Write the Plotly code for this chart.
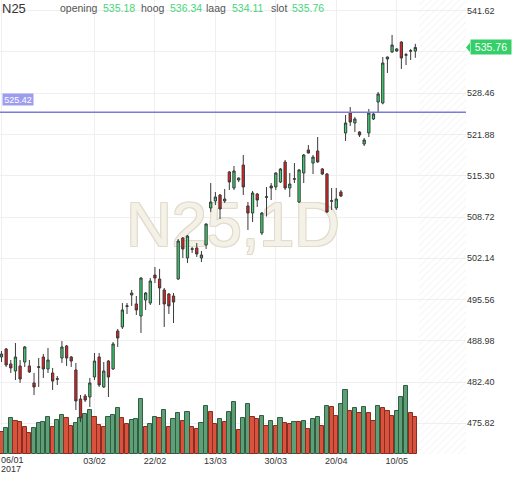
import pandas as pd
import plotly.graph_objects as go

symbol = "N25"
interval = "1D"

# trading days (Euronext holidays skipped)
holidays = ["2017-04-14", "2017-04-17", "2017-05-01"]
days = [d for d in pd.bdate_range("2017-01-06", "2017-05-16")
        if d.strftime("%Y-%m-%d") not in holidays]

open_ = [486.39, 487.67, 485.28, 484.16, 484.96, 485.59, 484.96, 482.25, 484.85, 486.39,
         484.48, 483.84, 482.95, 486.23, 488.15, 486.39, 484.32, 479.69, 480.17, 480.01,
         483.20, 486.39, 481.61, 485.75, 484.48, 490.54, 491.18, 494.45, 496.28, 494.85,
         492.93, 495.48, 495.00, 499.47, 498.83, 497.08, 496.44, 496.12, 498.83, 505.37,
         502.18, 503.67, 503.78, 502.18, 504.25, 510.16, 511.27, 512.23, 511.27, 515.90,
         513.35, 514.62, 517.01, 510.48, 509.36, 512.39, 506.17, 511.85, 513.67, 513.51,
         514.30, 517.49, 513.35, 514.73, 511.11, 515.74, 519.41, 517.33, 519.25, 516.38,
         515.58, 511.22, 510.16, 512.71, 522.12, 525.31, 523.71, 522.28, 520.36, 522.12,
         524.35, 527.06, 526.90, 533.92, 535.04, 535.20, 536.63, 534.51, 535.15, 535.18]

high = [487.35, 487.83, 485.91, 488.62, 485.91, 488.15, 485.91, 483.84, 486.23, 486.87,
        487.83, 484.64, 483.36, 488.94, 488.31, 486.55, 485.44, 480.33, 480.49, 483.04,
        487.03, 487.03, 485.59, 485.90, 488.78, 490.86, 495.00, 495.00, 497.08, 496.12,
        499.10, 496.76, 498.99, 500.75, 500.43, 497.40, 496.60, 496.60, 505.21, 505.53,
        505.85, 503.94, 504.57, 503.30, 507.70, 514.14, 512.71, 512.39, 513.19, 516.06,
        516.85, 515.00, 518.61, 511.11, 512.87, 512.55, 509.52, 513.50, 514.14, 515.85,
        516.54, 517.81, 515.74, 517.33, 516.38, 518.77, 520.20, 518.61, 521.48, 516.54,
        515.74, 513.35, 513.35, 513.03, 524.99, 526.26, 524.67, 522.40, 521.32, 525.95,
        525.31, 528.66, 534.24, 534.30, 537.75, 535.67, 536.75, 534.88, 535.52, 536.34]

low = [485.59, 484.80, 483.84, 482.72, 482.25, 484.80, 483.84, 480.33, 481.61, 483.04,
       483.84, 481.13, 481.93, 485.44, 484.96, 484.80, 477.94, 476.03, 479.21, 478.42,
       482.72, 481.61, 481.45, 480.01, 484.32, 487.99, 490.86, 493.25, 494.53, 493.09,
       490.22, 493.89, 494.69, 498.19, 494.69, 491.18, 493.25, 491.81, 498.70, 502.18,
       501.38, 502.98, 502.34, 501.54, 503.62, 509.52, 510.63, 508.40, 510.95, 513.03,
       513.03, 514.30, 512.23, 506.65, 507.92, 510.32, 505.85, 508.80, 511.43, 513.03,
       514.14, 513.03, 511.91, 514.14, 510.95, 514.14, 518.85, 515.58, 517.40, 515.42,
       509.36, 509.84, 509.84, 511.91, 520.84, 523.23, 522.28, 521.48, 520.04, 521.48,
       524.19, 525.47, 526.70, 531.69, 534.90, 535.04, 532.33, 532.96, 533.76, 534.11]

close = [486.87, 485.12, 484.64, 486.39, 482.88, 487.99, 484.00, 481.61, 484.75, 484.48,
         485.91, 482.56, 482.85, 487.99, 486.23, 485.75, 479.38, 476.66, 479.53, 482.25,
         485.75, 481.93, 484.16, 483.20, 488.47, 489.42, 493.89, 494.55, 496.60, 493.89,
         498.99, 496.60, 498.51, 498.99, 497.40, 494.85, 494.53, 495.16, 504.89, 503.62,
         505.69, 503.57, 502.82, 502.66, 507.60, 511.11, 511.91, 510.00, 511.59, 514.30,
         516.06, 514.94, 513.51, 509.36, 512.55, 511.43, 509.36, 511.95, 513.35, 515.74,
         516.38, 513.35, 513.98, 514.83, 516.22, 518.61, 518.93, 518.29, 517.49, 515.58,
         509.52, 511.32, 511.59, 512.07, 523.71, 523.87, 524.35, 521.80, 521.00, 525.31,
         525.15, 528.34, 533.28, 534.24, 536.15, 535.52, 534.08, 534.61, 535.25, 535.76]

volume = [31.0, 36.7, 51.0, 47.6, 46.2, 38.1, 29.5, 36.7, 43.8, 45.2,
          53.3, 39.0, 48.6, 55.7, 51.0, 40.0, 43.8, 51.0, 56.7, 62.9,
          53.3, 41.4, 39.0, 52.4, 55.7, 65.2, 51.0, 42.9, 48.6, 49.5,
          78.6, 39.0, 42.9, 53.3, 51.0, 62.9, 39.0, 49.5, 58.1, 47.6,
          60.5, 38.1, 35.7, 44.8, 69.0, 59.5, 42.4, 49.5, 46.2, 60.5,
          73.8, 34.3, 51.0, 71.4, 52.4, 50.0, 54.8, 40.0, 47.6, 40.0,
          51.0, 44.8, 42.4, 46.2, 45.2, 47.6, 35.7, 49.5, 53.3, 40.0,
          68.6, 66.7, 54.3, 71.4, 91.4, 61.9, 65.2, 58.1, 67.6, 58.1,
          47.6, 68.6, 65.2, 61.9, 54.3, 61.9, 81.9, 97.6, 58.1, 52.4]

tick_days = ["2017-01-06", "2017-02-03", "2017-02-22", "2017-03-13",
             "2017-03-30", "2017-04-20", "2017-05-10"]
tick_text = ["06/01", "03/02", "22/02", "13/03", "30/03", "20/04", "10/05"]

price_ticks = [475.82, 482.40, 488.98, 495.56, 502.14, 508.72,
               515.30, 521.88, 528.46, 535.04, 541.62]
price_line = 525.42

header_labels = ["opening", "hoog", "laag", "slot"]
header_values = [open_[-1], high[-1], low[-1], close[-1]]

FONT = "Arial, Liberation Sans, sans-serif"
n = len(days)
x = list(range(n))
x_range = [-0.32, 99.9]
price_range = [470.92, 543.33]
vol_range = [0, 650]

day_str = [d.strftime("%Y-%m-%d") for d in days]
tickvals = [day_str.index(d) for d in tick_days]
# first label sits at the left edge, drawn separately (left aligned) below
ticktext = [""] + tick_text[1:]

# the last-price marker sits over the tick label closest to the close
price_text = ["" if abs(v - close[-1]) < 1.5 else f"{v:.2f}" for v in price_ticks]

# volume colour: higher than previous day -> green
vol_fill, vol_edge = [], []
for i, v in enumerate(volume):
    if i > 0 and v > volume[i - 1]:
        vol_fill.append("#5f9f78"); vol_edge.append("#2f5e41")
    else:
        vol_fill.append("#d8523d"); vol_edge.append("#8a2c1f")

fig = go.Figure()

# future area hatching
fig.add_trace(go.Scatter(
    x=[n - 0.2, x_range[1], x_range[1], n - 0.2, n - 0.2],
    y=[vol_range[0], vol_range[0], vol_range[1], vol_range[1], vol_range[0]],
    fill="toself", mode="none", fillcolor="rgba(0,0,0,0)",
    fillpattern=dict(shape="/", fgcolor="#e9e9e9", bgcolor="rgba(0,0,0,0)",
                     size=5, solidity=0.2),
    hoverinfo="skip", showlegend=False))

# watermark
fig.add_trace(go.Scatter(
    x=[(x_range[0] + x_range[1]) / 2], y=[(vol_range[0] + vol_range[1]) / 2 - 4],
    mode="text", text=[symbol + "," + interval],
    textfont=dict(family=FONT, size=63, color="#f4f1e8",
                  shadow="-1px -1px 0 #e2dbca, 1px -1px 0 #e2dbca, -1px 1px 0 #e2dbca, 1px 1px 0 #e2dbca"),
    hoverinfo="skip", showlegend=False))

fig.add_trace(go.Bar(
    x=x, y=volume, width=0.9,
    marker=dict(color=vol_fill, line=dict(color=vol_edge, width=1)),
    showlegend=False))

fig.add_trace(go.Candlestick(
    x=x, open=open_, high=high, low=low, close=close, yaxis="y2",
    whiskerwidth=0,
    increasing=dict(fillcolor="#36dc6e", line=dict(color="#3a3a3a", width=1)),
    decreasing=dict(fillcolor="#ee1b1b", line=dict(color="#3a3a3a", width=1)),
    showlegend=False))

fig.add_shape(type="line", xref="paper", yref="y2", x0=0, x1=1,
              y0=price_line, y1=price_line, line=dict(color="#7b7bda", width=1.5))

# pointer of last price marker
fig.add_shape(type="path", xref="paper", yref="y2",
              path=f"M 1.0 {close[-1]} L 1.0086 {close[-1] + 0.75} L 1.0086 {close[-1] - 0.75} Z",
              fillcolor="#35cf69", line=dict(width=0))

fig.add_annotation(xref="paper", yref="y2", x=1.0086, y=close[-1],
                   xanchor="left", yanchor="middle", text=f"{close[-1]:.2f}",
                   showarrow=False, bgcolor="#35cf69", width=38, height=12, borderpad=1,
                   font=dict(family=FONT, size=10.5, color="white"))

fig.add_annotation(xref="paper", yref="y2", x=0.005, y=price_line, yshift=13,
                   xanchor="left", yanchor="middle", text=f"{price_line:.2f}",
                   showarrow=False, bgcolor="#9d9df0", width=28, height=9, borderpad=1,
                   font=dict(family=FONT, size=9, color="white"))

# first date label + year, left aligned at the plot edge
for txt, py in [(tick_text[0], 459.7), (days[0].strftime("%Y"), 468.5)]:
    fig.add_annotation(xref="paper", yref="paper", x=0, y=1 - py / 454,
                       xanchor="left", yanchor="middle", text=txt, showarrow=False,
                       borderpad=0, font=dict(family=FONT, size=9, color="#333333"))

fig.add_annotation(xref="paper", yref="paper", x=0, y=1 - 8 / 454,
                   xanchor="left", yanchor="middle", text=symbol, showarrow=False,
                   font=dict(family=FONT, size=13, color="#333333"))

label_px = [58, 138.5, 204, 268.5]
value_px = [100.5, 167.5, 229.5, 289.5]
for lab, val, lx, vx in zip(header_labels, header_values, label_px, value_px):
    fig.add_annotation(xref="paper", yref="paper", x=lx / 466, y=1 - 8.5 / 454,
                       xanchor="left", yanchor="middle", text=lab, showarrow=False,
                       font=dict(family=FONT, size=10.5, color="#555555"))
    fig.add_annotation(xref="paper", yref="paper", x=vx / 466, y=1 - 8.5 / 454,
                       xanchor="left", yanchor="middle", text=f"{val:.2f}", showarrow=False,
                       font=dict(family=FONT, size=10.5, color="#46d67c"))

fig.update_layout(
    width=512, height=477,
    margin=dict(l=0, r=46, t=0, b=23, autoexpand=False),
    paper_bgcolor="white", plot_bgcolor="white",
    showlegend=False, bargap=0,
    xaxis=dict(range=x_range, tickvals=tickvals, ticktext=ticktext,
               showgrid=True, gridcolor="#f0f0f0", zeroline=False, showline=False,
               ticks="", automargin=False,
               tickfont=dict(family=FONT, size=9, color="#333333"),
               rangeslider=dict(visible=False), fixedrange=True),
    yaxis=dict(range=vol_range, visible=False, showgrid=False, fixedrange=True,
               automargin=False),
    yaxis2=dict(range=price_range, overlaying="y", side="right",
                tickvals=price_ticks, ticktext=price_text,
                showgrid=True, gridcolor="#efefef", zeroline=False, showline=False,
                ticks="", automargin=False,
                tickfont=dict(family=FONT, size=9, color="#333333"),
                fixedrange=True),
)

fig.write_html("out.html", config={"displayModeBar": False},
               post_script="document.body.style.margin='0';document.body.style.overflow='hidden';")
